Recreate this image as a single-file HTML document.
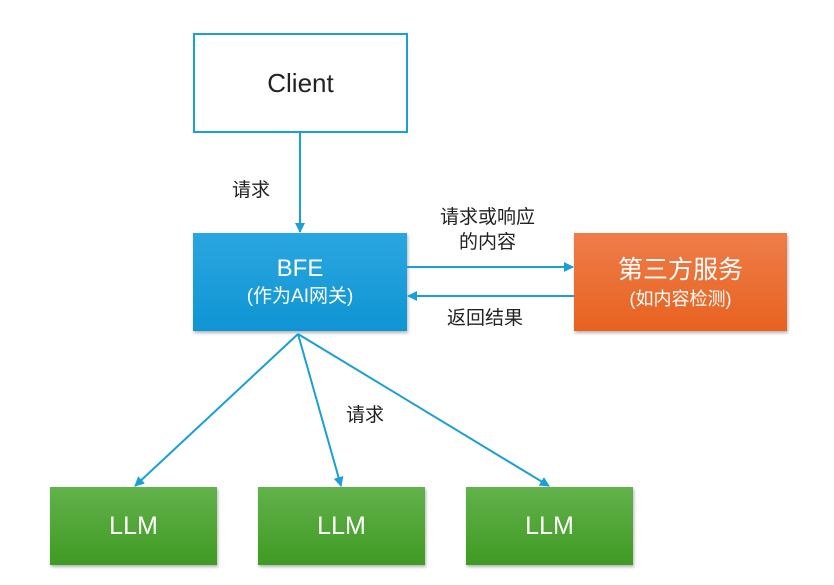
<!DOCTYPE html>
<html><head><meta charset="utf-8"><style>
body{margin:0;width:834px;height:585px;background:#fff;position:relative;overflow:hidden;font-family:"Liberation Sans","Noto Sans CJK SC",sans-serif;}
.b{position:absolute;box-sizing:border-box;display:flex;flex-direction:column;align-items:center;justify-content:center;color:#fff;}
.l{position:absolute;font-size:19px;color:#222;line-height:25px;text-align:center;}
.g{background:linear-gradient(#63b24c,#3f9a22);box-shadow:1px 2px 3px rgba(0,0,0,.3);font-size:25px;}
</style></head><body>
<div class="b" style="left:193px;top:33px;width:215px;height:100px;border:2px solid #1a9fd6;color:#222;font-size:26px;">Client</div>
<div class="b" style="left:193px;top:233px;width:214px;height:98px;background:linear-gradient(#2aa6e0,#0f95d3);box-shadow:1px 2px 3px rgba(0,0,0,.3);"><div style="font-size:24px;line-height:30px">BFE</div><div style="font-size:19px;line-height:26px">(作为AI网关)</div></div>
<div class="b" style="left:574px;top:233px;width:213px;height:98px;background:linear-gradient(#ee7d4a,#e8621f);box-shadow:1px 2px 3px rgba(0,0,0,.3);"><div style="font-size:25px;line-height:34px">第三方服务</div><div style="font-size:18px;line-height:24px">(如内容检测)</div></div>
<div class="b g" style="left:50px;top:487px;width:167px;height:78px;">LLM</div>
<div class="b g" style="left:258px;top:487px;width:167px;height:78px;">LLM</div>
<div class="b g" style="left:466px;top:487px;width:167px;height:78px;">LLM</div>
<svg width="834" height="585" style="position:absolute;left:0;top:0">
<defs><marker id="a" markerWidth="10" markerHeight="10" refX="9" refY="5" orient="auto" markerUnits="userSpaceOnUse"><path d="M0,0 L10,5 L0,10 Z" fill="#1a9fd6"/></marker></defs>
<g stroke="#1a9fd6" stroke-width="2" fill="none" marker-end="url(#a)">
<line x1="300" y1="133" x2="300" y2="232"/>
<line x1="407" y1="267" x2="573" y2="267"/>
<line x1="574" y1="296" x2="408" y2="296"/>
<line x1="298" y1="334" x2="135" y2="486"/>
<line x1="298" y1="334" x2="341" y2="486"/>
<line x1="298" y1="334" x2="549" y2="486"/>
</g></svg>
<div class="l" style="left:232px;top:178px">请求</div>
<div class="l" style="left:430px;top:205px;width:115px">请求或响应<br>的内容</div>
<div class="l" style="left:447px;top:306px">返回结果</div>
<div class="l" style="left:346px;top:403px">请求</div>
</body></html>
